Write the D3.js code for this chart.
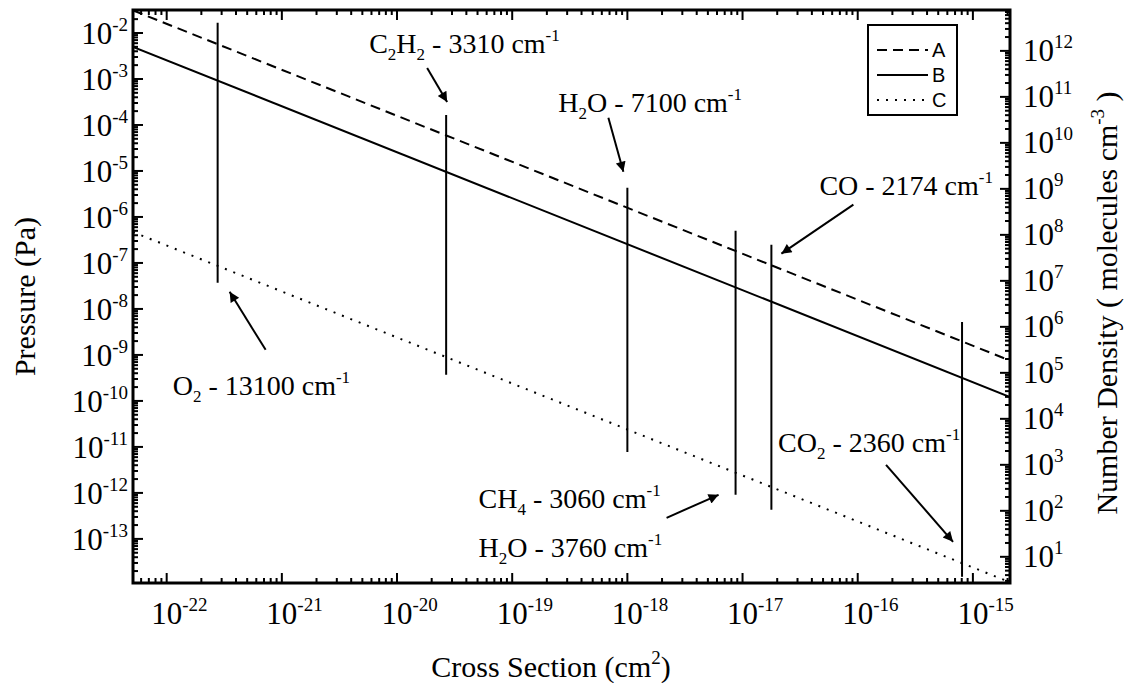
<!DOCTYPE html>
<meta charset="utf-8">
<script src="https://cdn.jsdelivr.net/npm/d3@7"></script>
<style>
body { margin: 0; background: #fff; }
svg text, svg tspan { font-family: "Liberation Serif", "DejaVu Serif", serif; fill: #000; }
svg .legend text { font-family: "Liberation Sans", Arial, sans-serif; }
</style>
<body>
<script>

// axis ranges (cross section in cm^2, pressure in Pa)
var xDomain = [5.1e-23, 2.1e-15];
var pDomain = [1.1e-14, 3.16e-2];
var densityPerPa = 2.45e14;          // molecules cm^-3 for 1 Pa

var xTickExps = [-22, -21, -20, -19, -18, -17, -16, -15];
var pTickExps = [-2, -3, -4, -5, -6, -7, -8, -9, -10, -11, -12, -13];
var nTickExps = [1, 2, 3, 4, 5, 6, 7, 8, 9, 10, 11, 12];

// the three limit lines, read at both ends of the x range
var seriesNames = ["A", "B", "C"];
var seriesSigma = [5.1e-23, 2.1e-15];
var seriesA = [3.1e-2, 7.55e-10];
var seriesB = [5.0e-3, 1.22e-10];
var seriesC = [4.7e-7, 1.14e-14];

// absorption bands: cross section and vertical extent
var bandSigma  = [2.77e-22, 2.67e-20, 1.0e-18, 8.7e-18, 1.78e-17, 8.05e-16];
var bandTop    = [1.66e-2, 1.65e-4, 4.3e-6, 5.0e-7, 2.5e-7, 5.2e-9];
var bandBottom = [3.7e-8, 3.7e-10, 7.8e-12, 9.1e-13, 4.3e-13, 1.5e-14];

// label text for each band: [text, "sub"|"sup"|""]
var bandLabels = [
  [[["O", ""], ["2", "sub"], [" - 13100 cm", ""], ["-1", "sup"]]],
  [[["C", ""], ["2", "sub"], ["H", ""], ["2", "sub"], [" - 3310 cm", ""], ["-1", "sup"]]],
  [[["H", ""], ["2", "sub"], ["O - 7100 cm", ""], ["-1", "sup"]]],
  [[["CH", ""], ["4", "sub"], [" - 3060 cm", ""], ["-1", "sup"]],
   [["H", ""], ["2", "sub"], ["O - 3760 cm", ""], ["-1", "sup"]]],
  [[["CO - 2174 cm", ""], ["-1", "sup"]]],
  [[["CO", ""], ["2", "sub"], [" - 2360 cm", ""], ["-1", "sup"]]]
];

// where the arrow points (top or bottom of the band) and pixel offsets
var annot = [
  {end: "bottom", head: [12, 9],   tail: [48, 67],    text: [-45, 112]},
  {end: "top",    head: [1, -13],  tail: [-19, -47],  text: [-77, -62]},
  {end: "top",    head: [-4, -16], tail: [-19, -70],  text: [-69, -76]},
  {end: "bottom", head: [-17, 0],  tail: [-69, 23],   text: [-257, 13]},
  {end: "top",    head: [10, 9],   tail: [82, -40],   text: [48, -50]},
  {end: "bottom", head: [-9, -35], tail: [-76, -112], text: [-184, -125]}
];

var width = 1129, height = 683;
var margin = {top: 10, right: 119, bottom: 100, left: 133};
var x0 = margin.left, x1 = width - margin.right;
var y0 = margin.top, y1 = height - margin.bottom;
var serif = "'Liberation Serif', 'DejaVu Serif', serif";

var x = d3.scaleLog().domain(xDomain).range([x0, x1]);
var y = d3.scaleLog().domain(pDomain).range([y1, y0]);
var yN = d3.scaleLog().domain(pDomain.map(function(p) { return p * densityPerPa; })).range([y1, y0]);

var svg = d3.select("body").append("svg")
    .attr("width", width)
    .attr("height", height)
    .attr("font-family", serif);

svg.append("defs").append("clipPath").attr("id", "clip")
  .append("rect").attr("x", x0).attr("y", y0).attr("width", x1 - x0).attr("height", y1 - y0);

svg.append("defs").append("marker")
    .attr("id", "arrow")
    .attr("viewBox", "0 0 10 10")
    .attr("refX", 10).attr("refY", 5)
    .attr("markerWidth", 8).attr("markerHeight", 5)
    .attr("markerUnits", "strokeWidth")
    .attr("orient", "auto")
  .append("path").attr("d", "M0,0L10,5L0,10Z").attr("fill", "#000");

// write a text made of normal / sub / sup pieces
function richText(sel, parts, size) {
  var small = Math.round(size * 0.62);
  var cur = 0;
  sel.attr("font-family", serif);
  parts.forEach(function(p) {
    var target = p[1] == "sub" ? size * 0.25 : p[1] == "sup" ? -size * 0.42 : 0;
    sel.append("tspan")
      .attr("dy", target - cur)
      .attr("font-size", p[1] ? small : size)
      .text(p[0]);
    cur = target;
  });
  return sel;
}

function logTicks(scale) {
  var d = scale.domain(), out = [];
  for (var e = Math.floor(Math.log10(d[0])); e <= Math.ceil(Math.log10(d[1])); e++) {
    for (var k = 1; k <= 9; k++) {
      var v = k * Math.pow(10, e);
      if (v >= d[0] && v <= d[1]) out.push({v: v, major: k == 1});
    }
  }
  return out;
}

var major = 10, minor = 5;
var ticks = svg.append("g").attr("stroke", "#000").attr("stroke-width", 2);

logTicks(x).forEach(function(t) {
  var len = t.major ? major : minor, px = x(t.v);
  ticks.append("line").attr("x1", px).attr("x2", px).attr("y1", y1).attr("y2", y1 - len);
  ticks.append("line").attr("x1", px).attr("x2", px).attr("y1", y0).attr("y2", y0 + len);
});
logTicks(y).forEach(function(t) {
  var len = t.major ? major : minor, py = y(t.v);
  ticks.append("line").attr("x1", x0).attr("x2", x0 + len).attr("y1", py).attr("y2", py);
});
logTicks(yN).forEach(function(t) {
  var len = t.major ? major : minor, py = yN(t.v);
  ticks.append("line").attr("x1", x1).attr("x2", x1 - len).attr("y1", py).attr("y2", py);
});

var tickSize = 31;
xTickExps.forEach(function(e) {
  richText(svg.append("text")
      .attr("x", x(Math.pow(10, e)) - tickSize * 0.5)
      .attr("y", y1 + 41),
    [["10", ""], [String(e), "sup"]], tickSize);
});
pTickExps.forEach(function(e) {
  richText(svg.append("text")
      .attr("x", x0 - 5)
      .attr("y", y(Math.pow(10, e)) + 11)
      .attr("text-anchor", "end"),
    [["10", ""], [String(e), "sup"]], tickSize);
});
nTickExps.forEach(function(e) {
  richText(svg.append("text")
      .attr("x", x1 + 13)
      .attr("y", yN(Math.pow(10, e)) + 10),
    [["10", ""], [String(e), "sup"]], tickSize);
});

// axis titles
var titleSize = 30;
richText(svg.append("text")
    .attr("x", 551).attr("y", y1 + 94)
    .attr("text-anchor", "middle"),
  [["Cross Section (cm", ""], ["2", "sup"], [")", ""]], titleSize);

richText(svg.append("text")
    .attr("transform", "translate(35," + ((y0 + y1) / 2) + ") rotate(-90)")
    .attr("text-anchor", "middle"),
  [["Pressure (Pa)", ""]], titleSize);

richText(svg.append("text")
    .attr("transform", "translate(1117,303) rotate(-90)")
    .attr("text-anchor", "middle"),
  [["Number Density ( molecules cm", ""], ["-3", "sup"], [" )", ""]], titleSize);

// limit lines
var seriesVals = [seriesA, seriesB, seriesC];
var dashes = ["10,6", null, "2,7"];
var line = d3.line().x(function(d) { return x(d[0]); }).y(function(d) { return y(d[1]); });

svg.append("g").attr("clip-path", "url(#clip)")
  .selectAll("path")
  .data(seriesVals)
  .enter().append("path")
    .attr("d", function(vals) { return line(seriesSigma.map(function(s, i) { return [s, vals[i]]; })); })
    .attr("fill", "none")
    .attr("stroke", "#000")
    .attr("stroke-width", 2)
    .attr("stroke-dasharray", function(d, i) { return dashes[i]; });

// band lines
svg.append("g").selectAll("line")
  .data(bandSigma)
  .enter().append("line")
    .attr("x1", function(d) { return x(d); })
    .attr("x2", function(d) { return x(d); })
    .attr("y1", function(d, i) { return y(bandTop[i]); })
    .attr("y2", function(d, i) { return y(bandBottom[i]); })
    .attr("stroke", "#000")
    .attr("stroke-width", 2);

// annotations
var labelSize = 28;
annot.forEach(function(a, i) {
  var bx = x(bandSigma[i]);
  var by = y(a.end == "top" ? bandTop[i] : bandBottom[i]);
  svg.append("line")
      .attr("x1", bx + a.tail[0]).attr("y1", by + a.tail[1])
      .attr("x2", bx + a.head[0]).attr("y2", by + a.head[1])
      .attr("stroke", "#000")
      .attr("stroke-width", 2)
      .attr("marker-end", "url(#arrow)");
  bandLabels[i].forEach(function(parts, j) {
    richText(svg.append("text")
        .attr("x", bx + a.text[0])
        .attr("y", by + a.text[1] + j * 49),
      parts, labelSize);
  });
});

// legend
var legend = svg.append("g").attr("class", "legend");
legend.append("rect")
    .attr("x", 868).attr("y", 25).attr("width", 89).attr("height", 90)
    .attr("fill", "#fff").attr("stroke", "#000").attr("stroke-width", 2);
seriesNames.forEach(function(name, i) {
  var ly = 50 + i * 25;
  legend.append("line")
      .attr("x1", 877).attr("x2", 928).attr("y1", ly).attr("y2", ly)
      .attr("stroke", "#000").attr("stroke-width", 2)
      .attr("stroke-dasharray", dashes[i]);
  legend.append("text")
      .attr("x", 932).attr("y", ly + 7)
      .attr("font-family", "'Liberation Sans', Arial, sans-serif")
      .attr("font-size", 20)
      .text(name);
});

// frame
svg.append("rect")
    .attr("x", x0).attr("y", y0).attr("width", x1 - x0).attr("height", y1 - y0)
    .attr("fill", "none").attr("stroke", "#000").attr("stroke-width", 3);

</script>
</body>
